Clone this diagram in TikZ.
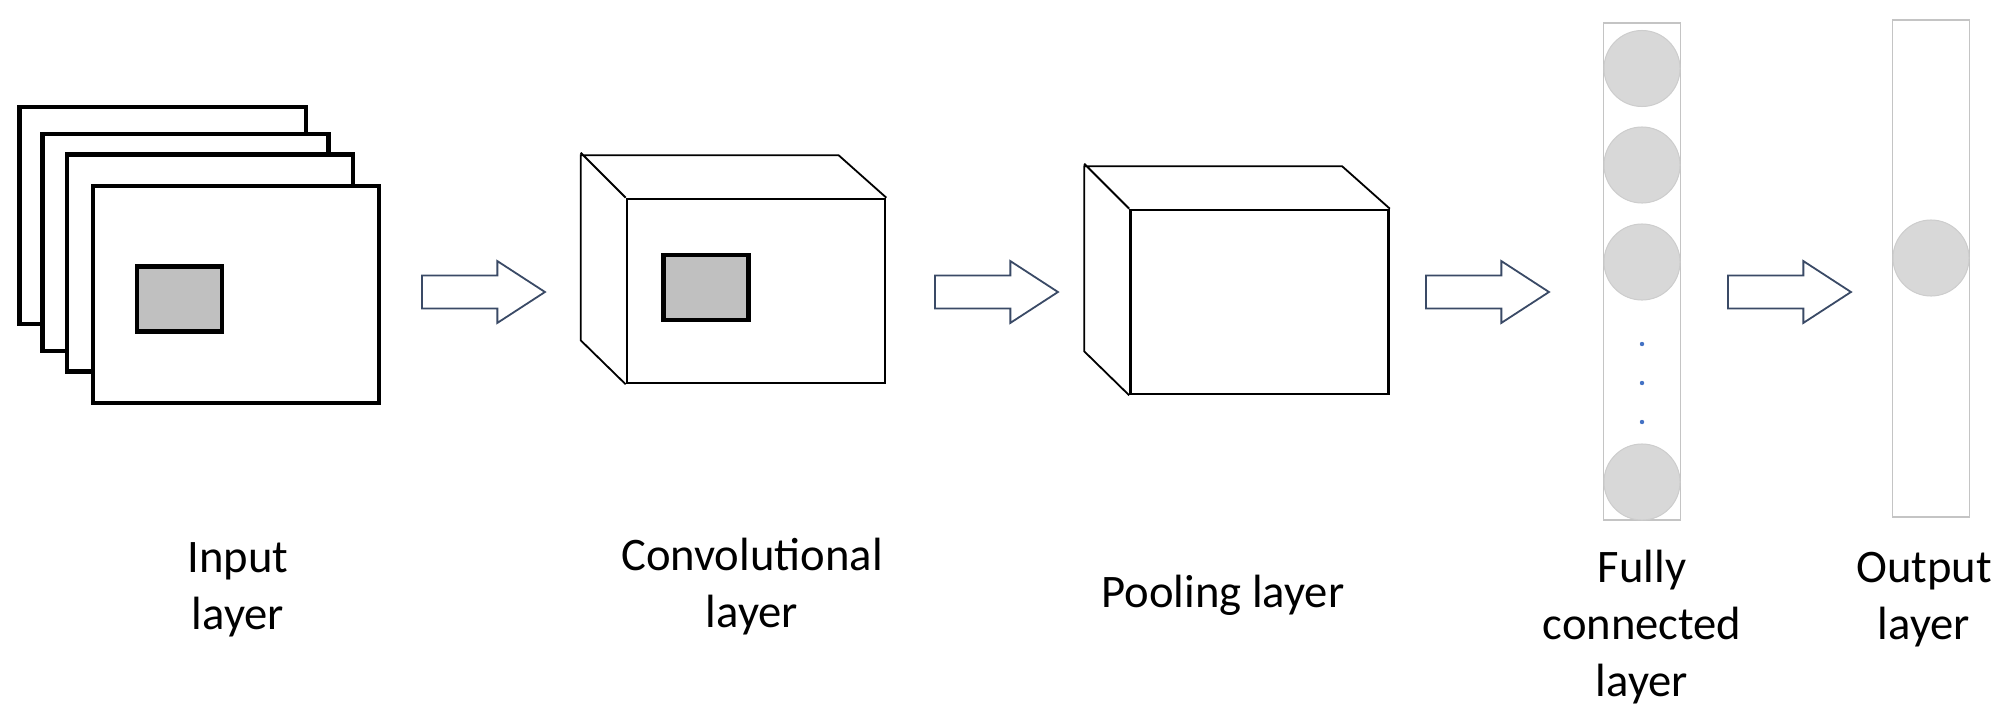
\documentclass[tikz,border=0pt]{standalone}
\usepackage{fontspec}
\setmainfont{Carlito}
\usetikzlibrary{shapes.arrows, calc}
\definecolor{cpatch}{HTML}{C0C0C0}
\definecolor{cnode}{HTML}{D8D8D8}
\definecolor{cnodeline}{HTML}{CDCDCD}
\definecolor{cline}{HTML}{C4C4C4}
\definecolor{cnavy}{HTML}{3A4A66}
\definecolor{cdot}{HTML}{4472C4}
\tikzset{
  every picture/.style={line join=miter},
  frame/.style={draw=black, fill=white, line width=0.045cm, minimum width=2.86cm, minimum height=2.17cm, inner sep=0pt},
  patch/.style={draw=black, fill=cpatch, line width=0.045cm, minimum width=0.85cm, minimum height=0.645cm, inner sep=0pt},
  face/.style={draw=black, fill=white, line width=0.025cm, minimum width=2.58cm, minimum height=1.84cm, inner sep=0pt},
  edge/.style={draw=black, line width=0.018cm},
  column/.style={draw=cline, line width=0.015cm, minimum width=0.77cm, minimum height=4.97cm, inner sep=0pt},
  neuron/.style={circle, draw=cnodeline, fill=cnode, line width=0.01cm, minimum size=0.76cm, inner sep=0pt},
  blockarrow/.style={single arrow, draw=cnavy, fill=white, line width=0.018cm, minimum height=1.23cm, anchor=tail,
    inner xsep=0pt, inner ysep=0.155cm, single arrow head extend=0.145cm, single arrow tip angle=66},
  lbl/.style={font=\fontsize{13.26}{16.2}\selectfont, align=center, anchor=base, inner sep=0pt},
}

\begin{document}
\begin{tikzpicture}[x=0.01cm, y=-0.01cm]
  \useasboundingbox (0,0) rectangle (2015,721);
  % input layer: stack of feature maps
  \foreach \i/\cx/\cy in {1/162.75/215.5, 2/185.5/242.5, 3/210/263, 4/236/294.5}
    \node[frame] (in\i) at (\cx,\cy) {};
  \node[patch] (inpatch) at (179.5,299) {};
  % convolutional and pooling layers
  \node[face] (conv) at (756,291) {};
  \node[face] (pool) at (1259.5,302) {};
  \foreach \n in {conv, pool}
    \draw[edge] (\n.south west) -- ++(-45,-44) -- ++(0,-185) -- ++(258,0) -- (\n.north east)
      (\n.north west) -- ++(-45,-45);
  \node[patch] (convpatch) at (706,287.5) {};
  % fully connected and output layers
  \node[column] (fc) at (1642,271.5) {};
  \node[column] (out) at (1931,268.5) {};
  \foreach \i/\cy in {1/68.5, 2/165, 3/262, 4/482}
    \node[neuron] (fc\i) at (1642,\cy) {};
  \foreach \cy in {344, 383, 422}
    \fill[cdot] (1642,\cy) circle (2.2);
  \node[neuron] (out1) at (1931,258) {};
  % block arrows, placed by their tails
  \node[blockarrow] (arr1) at (421,292) {};
  \node[blockarrow] (arr2) at (934,292) {};
  \node[blockarrow] (arr3) at (1425,292) {};
  \node[blockarrow] (arr4) at (1727,292) {};
  % labels (anchored on the last line)
  \node[lbl] (tin) at (238,629) {Input\\layer};
  \node[lbl] (tconv) at (752,627) {Convolutional\\layer};
  \node[lbl] (tpool) at (1223,607) {Pooling layer};
  \node[lbl] (tfc) at (1642,696) {Fully\\connected\\layer};
  \node[lbl] (tout) at (1924,639) {Output\\layer};
\end{tikzpicture}
\end{document}
